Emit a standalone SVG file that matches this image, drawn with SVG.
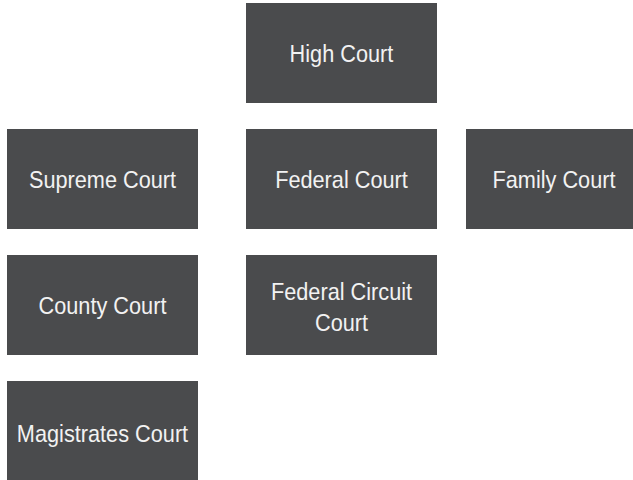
<svg xmlns="http://www.w3.org/2000/svg" width="633" height="480" viewBox="0 0 633 480">
<style>
.box{fill:#4a4b4d}
.t{font-family:"Liberation Sans",Arial,sans-serif;font-size:24px;fill:#f2f2f2;text-anchor:middle}
</style>
<rect width="633" height="480" fill="#ffffff"/>
<g id="connectors"/>
<g id="high-court"><rect class="box" x="246" y="3" width="191" height="100"/><text class="t" transform="translate(341.5,62) scale(0.905,1)">High Court</text></g>
<g id="supreme-court"><rect class="box" x="7" y="129" width="191" height="100"/><text class="t" transform="translate(102.5,188) scale(0.905,1)">Supreme Court</text></g>
<g id="federal-court"><rect class="box" x="246" y="129" width="191" height="100"/><text class="t" transform="translate(341.5,188) scale(0.905,1)">Federal Court</text></g>
<g id="family-court"><rect class="box" x="466" y="129" width="191" height="100"/><text class="t" transform="translate(554,188) scale(0.905,1)">Family Court</text></g>
<g id="county-court"><rect class="box" x="7" y="255" width="191" height="100"/><text class="t" transform="translate(102.5,314) scale(0.905,1)">County Court</text></g>
<g id="federal-circuit-court"><rect class="box" x="246" y="255" width="191" height="100"/><text class="t" transform="translate(341.5,300) scale(0.905,1)">Federal Circuit</text><text class="t" transform="translate(341.5,331) scale(0.905,1)">Court</text></g>
<g id="magistrates-court"><rect class="box" x="7" y="381" width="191" height="100"/><text class="t" transform="translate(102.5,442) scale(0.905,1)">Magistrates Court</text></g>
</svg>
